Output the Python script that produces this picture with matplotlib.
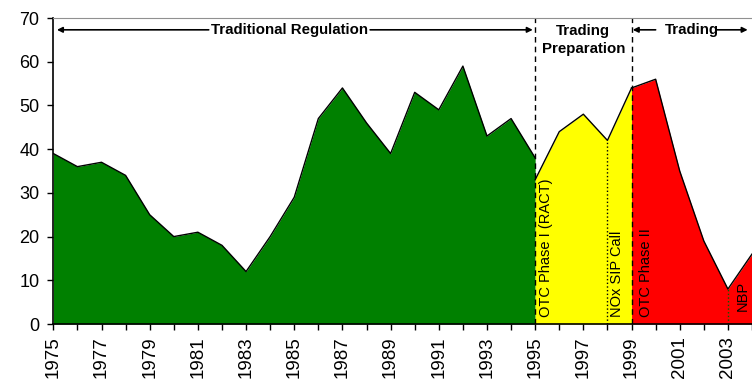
import numpy as np
import matplotlib.pyplot as plt

plt.rcParams['font.family'] = ['Liberation Sans', 'DejaVu Sans']

# annual values by regulatory period
trad_years = list(range(1975, 1996))
trad_vals = [39, 36, 37, 34, 25, 20, 21, 18, 12, 20, 29, 47, 54, 46, 39, 53, 49, 59, 43, 47, 38]
prep_years = [1995, 1996, 1997, 1998, 1999]
prep_vals = [33, 44, 48, 42, 54]
trade_years = [1999, 2000, 2001, 2002, 2003, 2004]
trade_vals = [54, 56, 35, 19, 8, 16]

phase_bounds = [1995, 1999]
events = ["OTC Phase I (RACT)", "NOx SIP Call", "OTC Phase II", "NBP"]
event_years = [1995, 1998, 1999, 2003]

fig = plt.figure(figsize=(7.52, 3.85), dpi=100)
ax = fig.add_axes([0.0709, 0.1584, 0.9291, 0.7948])

ax.fill_between(trad_years, trad_vals, color="#008000", lw=0)
ax.plot(trad_years, trad_vals, color="black", lw=1)
ax.fill_between(prep_years, prep_vals, color="#ffff00", lw=0)
ax.plot(prep_years, prep_vals, color="black", lw=1)
ax.fill_between(trade_years, trade_vals, color="#ff0000", lw=0)
ax.plot(trade_years, trade_vals, color="black", lw=1)

for b in phase_bounds:
    ax.axvline(b, color="black", lw=1, ls=(0, (4, 3)))

# event markers
ax.plot([1998, 1998], [0, prep_vals[prep_years.index(1998)]], color="black", lw=1, ls=":")
ax.plot([2003, 2003], [0, trade_vals[trade_years.index(2003)]], color="#006000", lw=1, ls=":")

offsets = [0.47, 0.4, 0.6, 0.6]
bottoms = [1.5, 1.5, 1.5, 3.0]
for name, yr, dx, yb in zip(events, event_years, offsets, bottoms):
    ax.text(yr + dx, yb, name, rotation=90, ha="center", va="bottom", fontsize=10.5)

# period arrows along the top
arr = dict(arrowstyle="-|>", color="black", lw=1.2, mutation_scale=8, shrinkA=0, shrinkB=0)
ya = 67.3
ax.annotate("", xy=(1975.15, ya), xytext=(1981.45, ya), arrowprops=arr)
ax.annotate("", xy=(1994.9, ya), xytext=(1988.15, ya), arrowprops=arr)
ax.text(1984.8, ya, "Traditional Regulation", ha="center", va="center",
        fontsize=10.8, fontweight="bold")
ax.text(1997.0, 65.0, "Trading\nPreparation", ha="center", va="center",
        fontsize=10.8, fontweight="bold", linespacing=1.3)
ax.annotate("", xy=(1999.05, ya), xytext=(2000.0, ya), arrowprops=arr)
ax.annotate("", xy=(2003.82, ya), xytext=(2002.55, ya), arrowprops=arr)
ax.text(2001.5, ya, "Trading", ha="center", va="center", fontsize=10.8, fontweight="bold")

ax.set_xlim(1975, 2003.9)
ax.set_ylim(0, 70)
ax.set_yticks(np.arange(0, 71, 10))
ax.set_xticks(np.arange(1975, 2004, 2))
ax.set_xticks(np.arange(1975, 2005, 1), minor=True)
ax.set_xticklabels([str(y) for y in range(1975, 2004, 2)], rotation=90, fontsize=13.5)
ax.tick_params(axis="y", labelsize=13, length=4, width=1, pad=6, direction="out")
ax.tick_params(axis="x", which="both", length=4, width=1, pad=5, direction="out")

ax.spines["right"].set_visible(False)
ax.spines["top"].set_color("#909090")
ax.spines["left"].set_linewidth(1.2)
ax.spines["bottom"].set_linewidth(1.2)

fig.savefig("out.png", dpi=100)
